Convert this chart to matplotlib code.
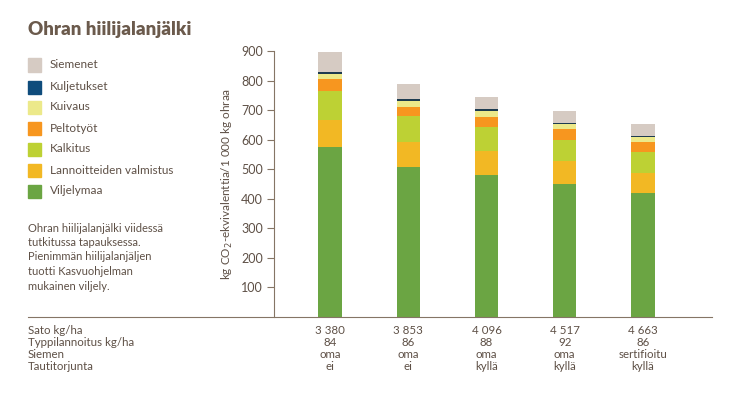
import matplotlib.pyplot as plt
import matplotlib.transforms as mtransforms
import numpy as np

plt.rcParams['font.family'] = ['Lato', 'DejaVu Sans']

# stacked components, bottom to top
components = ['Viljelymaa', 'Lannoitteiden valmistus', 'Kalkitus', 'Peltotyöt',
              'Kuivaus', 'Kuljetukset', 'Siemenet']
viljelymaa = [574, 508, 480, 449, 418]
lannoitteet = [92, 85, 82, 79, 70]
kalkitus = [99, 88, 80, 71, 71]
peltotyot = [40, 30, 34, 37, 32]
kuivaus = [17, 21, 21, 16, 19]
kuljetukset = [8, 6, 7, 5, 4]
siemenet = [67, 50, 39, 40, 38]

sato = ['3 380', '3 853', '4 096', '4 517', '4 663']
typpi = ['84', '86', '88', '92', '86']
siemen = ['oma', 'oma', 'oma', 'oma', 'sertifioitu']
tauti = ['ei', 'ei', 'kyllä', 'kyllä', 'kyllä']
row_labels = ['Sato kg/ha', 'Typpilannoitus kg/ha', 'Siemen', 'Tautitorjunta']

colors = ['#6ba543', '#f2b824', '#bdd134', '#f7961f', '#ece98a', '#1d3b50', '#d6cbc3']
legend_colors = ['#6ba543', '#f2b824', '#bdd134', '#f7961f', '#ece98a', '#0f4c7c', '#d6cbc3']

txt = '#5e5046'
axcol = '#857565'

W, H = 731, 393
fig = plt.figure(figsize=(W / 100, H / 100), dpi=100)
ax = fig.add_axes([274 / W, 1 - 317 / H, (712 - 274) / W, (317 - 51) / H])

x = np.arange(5)
series = [viljelymaa, lannoitteet, kalkitus, peltotyot, kuivaus, kuljetukset, siemenet]
bottom = np.zeros(5)
for vals, c in zip(series, colors):
    ax.bar(x, vals, width=0.3, bottom=bottom, color=c, linewidth=0)
    bottom += np.array(vals)

ax.set_xlim(-0.718, 4.885)
ax.set_ylim(0, 900)
ax.set_yticks(range(100, 1000, 100))
ax.tick_params(axis='y', length=5, width=0.8, color=axcol, labelcolor=txt, labelsize=9, pad=3)
ax.set_xticks([])
for s in ['top', 'right', 'bottom']:
    ax.spines[s].set_visible(False)
ax.spines['left'].set_color(axcol)
ax.spines['left'].set_linewidth(0.8)
ax.set_ylabel(r'kg CO$_2$-ekvivalenttia/1 000 kg ohraa', color=txt, fontsize=8.5, labelpad=4)

# baseline across the whole table
fig.add_artist(plt.Line2D([28 / W, 712 / W], [1 - 317 / H] * 2, color=axcol, lw=0.8))

# title
fig.text(28 / W, 1 - 30 / H, 'Ohran hiilijalanjälki', fontsize=13.5, fontweight='heavy',
         color='#6b5a4c', va='center')

# legend (top to bottom)
leg_y = [65, 87, 107, 128, 149, 170, 191]
for i, (name, c) in enumerate(zip(components[::-1], legend_colors[::-1])):
    yc = 1 - leg_y[i] / H
    fig.patches.append(plt.Rectangle((28 / W, yc - 6.5 / H), 13 / W, 13 / H,
                                     transform=fig.transFigure, color=c, figure=fig))
    fig.text(50 / W, yc, name, fontsize=8.5, color=txt, va='center')

para = ['Ohran hiilijalanjälki viidessä', 'tutkitussa tapauksessa.',
        'Pienimmän hiilijalanjäljen', 'tuotti Kasvuohjelman', 'mukainen viljely.']
for i, line in enumerate(para):
    fig.text(28 / W, 1 - (228 + i * 14.5) / H, line, fontsize=8, color=txt, va='center')

# data rows under the chart
trans = mtransforms.blended_transform_factory(ax.transData, fig.transFigure)
rows = [sato, typpi, siemen, tauti]
row_y = [331, 343, 355, 367]
for lab, vals, yy in zip(row_labels, rows, row_y):
    fig.text(28 / W, 1 - yy / H, lab, fontsize=8.3, color=txt, va='center')
    for xi, v in zip(x, vals):
        ax.text(xi, 1 - yy / H, v, transform=trans, fontsize=8.3, color=txt,
                ha='center', va='center')

fig.savefig('out.png', dpi=100)
